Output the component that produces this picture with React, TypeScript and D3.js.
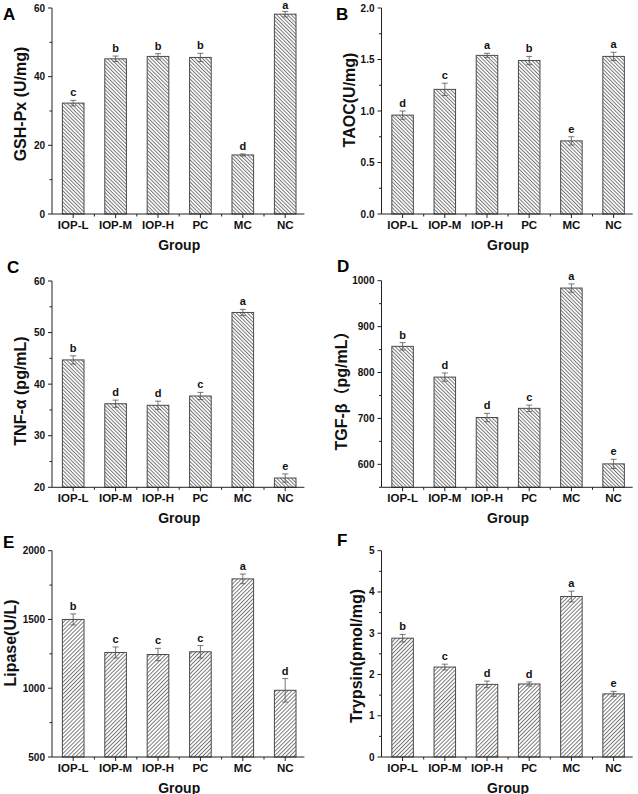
import React from "react";
import * as d3 from "d3";

const groups = ["IOP-L", "IOP-M", "IOP-H", "PC", "MC", "NC"];

const gshMean = [32.3, 45.2, 45.9, 45.6, 17.2, 58.2];
const gshErr = [0.8, 0.8, 0.8, 1.2, 0.3, 0.8];
const gshSig = ["c", "b", "b", "b", "d", "a"];
const gshTicks = [0, 20, 40, 60];

const taocMean = [0.96, 1.21, 1.54, 1.49, 0.71, 1.53];
const taocErr = [0.04, 0.06, 0.02, 0.04, 0.04, 0.04];
const taocSig = ["d", "c", "a", "b", "e", "a"];
const taocTicks = [0.0, 0.5, 1.0, 1.5, 2.0];

const tnfMean = [44.7, 36.2, 35.9, 37.7, 53.9, 21.8];
const tnfErr = [0.8, 0.7, 0.8, 0.7, 0.6, 0.8];
const tnfSig = ["b", "d", "d", "c", "a", "e"];
const tnfTicks = [20, 30, 40, 50, 60];

const tgfMean = [857, 790, 702, 722, 984, 601];
const tgfErr = [8, 9, 9, 7, 9, 10];
const tgfSig = ["b", "d", "d", "c", "a", "e"];
const tgfTicks = [600, 700, 800, 900, 1000];

const lipMean = [1500, 1260, 1245, 1265, 1795, 985];
const lipErr = [40, 40, 45, 45, 35, 85];
const lipSig = ["b", "c", "c", "c", "a", "d"];
const lipTicks = [500, 1000, 1500, 2000];

const tryMean = [2.88, 2.18, 1.76, 1.77, 3.89, 1.53];
const tryErr = [0.09, 0.07, 0.08, 0.05, 0.13, 0.06];
const trySig = ["b", "c", "d", "d", "a", "e"];
const tryTicks = [0, 1, 2, 3, 4, 5];

const FONT = "'Liberation Sans', Arial, 'Noto Sans CJK SC', sans-serif";

type Panel = {
  letter: string;
  title: string;
  mean: number[];
  err: number[];
  sig: string[];
  ticks: number[];
  domain: [number, number];
  fmt: (v: number) => string;
  hatch: string;
  x0: number; x1: number; yTop: number; yBot: number;
  lx: number; ly: number; tx: number; ty: number;
};

const panels: Panel[] = [
  { letter: "A", title: "GSH-Px (U/mg)", mean: gshMean, err: gshErr, sig: gshSig, ticks: gshTicks, domain: [0, 60], fmt: d3.format("d"), hatch: "back",
    x0: 52, x1: 306.4, yTop: 8, yBot: 214, lx: 3, ly: 20, tx: 20.5, ty: 104 },
  { letter: "B", title: "TAOC(U/mg)", mean: taocMean, err: taocErr, sig: taocSig, ticks: taocTicks, domain: [0, 2], fmt: d3.format(".1f"), hatch: "back",
    x0: 381.5, x1: 634.7, yTop: 8, yBot: 214, lx: 336, ly: 20, tx: 349.5, ty: 100 },
  { letter: "C", title: "TNF-α (pg/mL)", mean: tnfMean, err: tnfErr, sig: tnfSig, ticks: tnfTicks, domain: [20, 60], fmt: d3.format("d"), hatch: "back",
    x0: 52, x1: 306.4, yTop: 281, yBot: 487.3, lx: 7, ly: 273, tx: 20, ty: 391 },
  { letter: "D", title: "TGF-β（pg/mL）", mean: tgfMean, err: tgfErr, sig: tgfSig, ticks: tgfTicks, domain: [550, 1000], fmt: d3.format("d"), hatch: "back",
    x0: 381.5, x1: 634.7, yTop: 280.7, yBot: 487.3, lx: 337, ly: 272, tx: 341, ty: 387 },
  { letter: "E", title: "Lipase(U/L)", mean: lipMean, err: lipErr, sig: lipSig, ticks: lipTicks, domain: [500, 2000], fmt: d3.format("d"), hatch: "fwd",
    x0: 52, x1: 306.4, yTop: 550.7, yBot: 757, lx: 3, ly: 548, tx: 10, ty: 643 },
  { letter: "F", title: "Trypsin(pmol/mg)", mean: tryMean, err: tryErr, sig: trySig, ticks: tryTicks, domain: [0, 5], fmt: d3.format("d"), hatch: "fwd",
    x0: 381.5, x1: 634.7, yTop: 550.7, yBot: 757, lx: 337, ly: 546, tx: 356, ty: 656 },
];

function PanelView({ p }: { p: Panel }) {
  const x = d3.scaleBand<string>().domain(groups).range([p.x0, p.x1]).paddingInner(0.49).paddingOuter(0.245);
  const y = d3.scaleLinear().domain(p.domain).range([p.yBot, p.yTop]);
  const step = p.ticks[1] - p.ticks[0];
  const minor: number[] = [];
  for (let i = 0; i < p.ticks.length; i++) {
    const m = p.ticks[i] - step / 2;
    if (m >= p.domain[0] - 1e-9 && m <= p.domain[1]) minor.push(m);
  }
  const bw = x.bandwidth();
  const centers = groups.map((g) => (x(g) as number) + bw / 2);
  const xMinor = groups.slice(1).map((g, i) => (centers[i] + centers[i + 1]) / 2);
  const axisColor = "#222";
  return (
    <g fontFamily={FONT} fontWeight="bold">
      {groups.map((g, i) => {
        const yt = y(p.mean[i]);
        const top = y(p.mean[i] + p.err[i]);
        return (
          <g key={g}>
            <rect x={x(g)} y={yt} width={bw} height={p.yBot - yt} fill="#fff" />
            <rect x={x(g)} y={yt} width={bw} height={p.yBot - yt} fill={`url(#hatch-${p.hatch})`} stroke="#4a4a4a" strokeWidth={1} />
            <line x1={centers[i]} x2={centers[i]} y1={top} y2={y(p.mean[i] - p.err[i])} stroke="#555" strokeWidth={0.8} />
            <line x1={centers[i] - 3} x2={centers[i] + 3} y1={top} y2={top} stroke="#555" strokeWidth={0.8} />
            <line x1={centers[i] - 3} x2={centers[i] + 3} y1={y(p.mean[i] - p.err[i])} y2={y(p.mean[i] - p.err[i])} stroke="#555" strokeWidth={0.8} />
            <text x={centers[i]} y={Math.max(top - 4, 9)} textAnchor="middle" fontSize={11} fill="#111">{p.sig[i]}</text>
          </g>
        );
      })}
      <line x1={p.x0} x2={p.x0} y1={p.yTop} y2={p.yBot} stroke={axisColor} strokeWidth={1} />
      {p.ticks.map((t) => (
        <g key={t}>
          <line x1={p.x0 - 4} x2={p.x0} y1={y(t)} y2={y(t)} stroke={axisColor} strokeWidth={1} />
          <text x={p.x0 - 7} y={y(t)} dy="0.35em" textAnchor="end" fontSize={10} fill="#111">{p.fmt(t)}</text>
        </g>
      ))}
      {minor.map((t) => (
        <line key={"m" + t} x1={p.x0 - 2.5} x2={p.x0} y1={y(t)} y2={y(t)} stroke={axisColor} strokeWidth={1} />
      ))}
      <line x1={p.x0} x2={p.x1 - 2} y1={p.yBot} y2={p.yBot} stroke={axisColor} strokeWidth={1} />
      {groups.map((g, i) => (
        <g key={"x" + g}>
          <line x1={centers[i]} x2={centers[i]} y1={p.yBot} y2={p.yBot + 4} stroke={axisColor} strokeWidth={1} />
          <text x={centers[i]} y={p.yBot + 15} textAnchor="middle" fontSize={11.5} fill="#111">{g}</text>
        </g>
      ))}
      {xMinor.map((m) => (
        <line key={"xm" + m} x1={m} x2={m} y1={p.yBot} y2={p.yBot + 2.5} stroke={axisColor} strokeWidth={1} />
      ))}
      <text x={(p.x0 + p.x1) / 2} y={p.yBot + 35.5} textAnchor="middle" fontSize={14} fill="#111">Group</text>
      <text transform={`translate(${p.tx},${p.ty}) rotate(-90)`} textAnchor="middle" dy="0.35em" fontSize={16} fill="#111">{p.title}</text>
      <text x={p.lx} y={p.ly} fontSize={17} fill="#000">{p.letter}</text>
    </g>
  );
}

export default function App() {
  return (
    <svg width={638} height={794} style={{ position: "absolute", left: 0, top: 0, background: "#fff" }}>
      <defs>
        <pattern id="hatch-back" patternUnits="userSpaceOnUse" width={2.6} height={2.6} patternTransform="rotate(-45)">
          <rect width={2.6} height={2.6} fill="#fff" />
          <line x1={0.5} y1={0} x2={0.5} y2={2.6} stroke="#6a6a6a" strokeWidth={0.9} />
        </pattern>
        <pattern id="hatch-fwd" patternUnits="userSpaceOnUse" width={2.8} height={2.8} patternTransform="rotate(45)">
          <rect width={2.8} height={2.8} fill="#fff" />
          <line x1={0.5} y1={0} x2={0.5} y2={2.8} stroke="#6a6a6a" strokeWidth={0.9} />
        </pattern>
      </defs>
      <rect width={638} height={794} fill="#fff" />
      {panels.map((p) => (
        <PanelView key={p.letter} p={p} />
      ))}
    </svg>
  );
}
